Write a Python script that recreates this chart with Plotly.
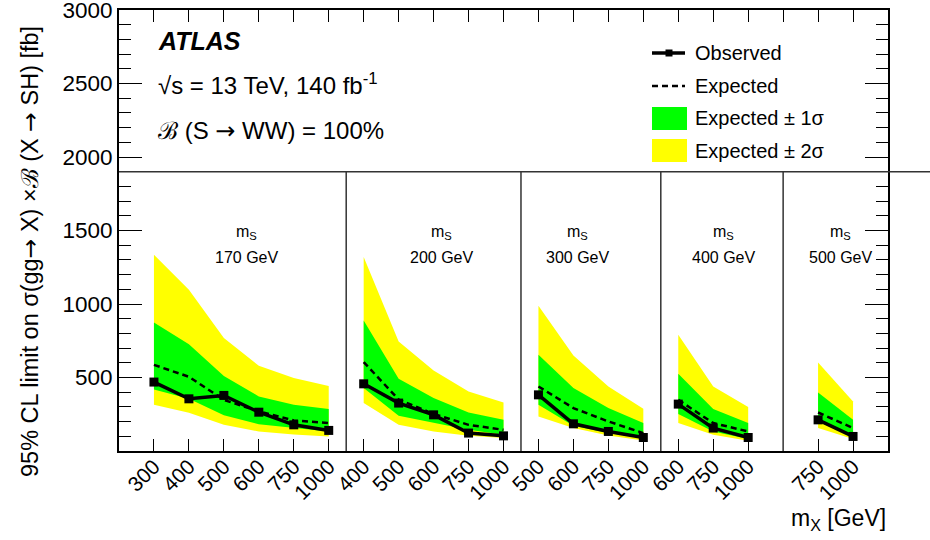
import plotly.graph_objects as go

# ---------------- data ----------------
ms_labels = ["170 GeV", "200 GeV", "300 GeV", "400 GeV", "500 GeV"]

mx_170 = ["300", "400", "500", "600", "750", "1000"]
mx_200 = ["400", "500", "600", "750", "1000"]
mx_300 = ["500", "600", "750", "1000"]
mx_400 = ["600", "750", "1000"]
mx_500 = ["750", "1000"]

obs_170 = [469, 355, 378, 264, 178, 140]
obs_200 = [457, 326, 246, 122, 103]
obs_300 = [382, 185, 133, 92]
obs_400 = [319, 156, 92]
obs_500 = [212, 99]

exp_170 = [586, 505, 348, 270, 208, 190]
exp_200 = [605, 350, 252, 178, 144]
exp_300 = [439, 292, 201, 122]
exp_400 = [348, 190, 133]
exp_500 = [262, 156]

p1s_170 = [874, 727, 511, 371, 314, 285]
p1s_200 = [888, 491, 360, 262, 212]
p1s_300 = [654, 428, 292, 190]
p1s_400 = [525, 285, 190]
p1s_500 = [398, 212]

m1s_170 = [418, 355, 244, 182, 158, 133]
m1s_200 = [428, 239, 190, 144, 110]
m1s_300 = [314, 171, 122, 88]
m1s_400 = [251, 133, 81]
m1s_500 = [201, 95]

p2s_170 = [1335, 1097, 768, 580, 496, 443]
p2s_200 = [1319, 745, 548, 405, 330]
p2s_300 = [988, 650, 439, 287]
p2s_400 = [790, 439, 299]
p2s_500 = [602, 337]

m2s_170 = [314, 261, 178, 133, 112, 99]
m2s_200 = [326, 178, 133, 103, 88]
m2s_300 = [235, 156, 105, 71]
m2s_400 = [190, 110, 69]
m2s_500 = [156, 81]

# ---------------- layout constants ----------------
slot_start = [0, 6, 11, 15, 19]        # first slot of each mS group
separators = [5.5, 10.5, 14.5, 18]
label_pos = [2.65, 8.23, 12.12, 16.29, 19.65]
XMIN, XMAX = -1, 21
YMIN, YMAX = 0, 3000
DIVIDER = 1900

W, H = 930, 540
# plot area in screen pixels: left 119, right 888, top 10, bottom 451
SL, SR, ST, SB = 119, 888, 10, 451
L, T, R, B = SL, ST, W - SR, H - SB
PW, PH = SR - SL, SB - ST
FONT = "Liberation Sans, Arial, Helvetica, sans-serif"
ARW = '<span style="font-family:DejaVu Sans">→</span>'
YEL = "#ffff00"
GRN = "#00ff00"


def px(x):
    return (x - SL) / PW


def py(y):
    return (SB - y) / PH


groups = [
    (mx_170, obs_170, exp_170, p1s_170, m1s_170, p2s_170, m2s_170),
    (mx_200, obs_200, exp_200, p1s_200, m1s_200, p2s_200, m2s_200),
    (mx_300, obs_300, exp_300, p1s_300, m1s_300, p2s_300, m2s_300),
    (mx_400, obs_400, exp_400, p1s_400, m1s_400, p2s_400, m2s_400),
    (mx_500, obs_500, exp_500, p1s_500, m1s_500, p2s_500, m2s_500),
]

fig = go.Figure()
tickvals, ticktext = [], []
for gi, (mx, obs, exp, p1, m1, p2, m2) in enumerate(groups):
    xs = [slot_start[gi] + i for i in range(len(mx))]
    tickvals += xs
    ticktext += mx
    fig.add_trace(go.Scatter(x=xs + xs[::-1], y=p2 + m2[::-1], fill="toself",
                             fillcolor=YEL, line=dict(width=0), mode="lines",
                             showlegend=False, hoverinfo="skip"))
    fig.add_trace(go.Scatter(x=xs + xs[::-1], y=p1 + m1[::-1], fill="toself",
                             fillcolor=GRN, line=dict(width=0), mode="lines",
                             showlegend=False, hoverinfo="skip"))
    fig.add_trace(go.Scatter(x=xs, y=exp, mode="lines",
                             line=dict(color="black", width=2.5, dash="6px,4px"),
                             showlegend=False))
    fig.add_trace(go.Scatter(x=xs, y=obs, mode="lines+markers",
                             line=dict(color="black", width=3.5),
                             marker=dict(symbol="square", size=9, color="black"),
                             showlegend=False))

# dummy trace to materialise the mirrored top/right axes
fig.add_trace(go.Scatter(x=[XMIN], y=[YMIN], xaxis="x2", yaxis="y2", mode="markers",
                         marker=dict(opacity=0), showlegend=False, hoverinfo="skip"))

major_y = list(range(500, 3001, 500))
minor_y = [v for v in range(100, 3000, 100) if v % 500 != 0]

yaxis_common = dict(range=[YMIN, YMAX], tickmode="array", tickvals=major_y,
                    ticks="inside", ticklen=23, tickwidth=1.3, tickcolor="black",
                    minor=dict(tickmode="array", tickvals=minor_y, ticks="inside",
                               ticklen=12, tickwidth=1.3, tickcolor="black"),
                    showgrid=False, zeroline=False, automargin=False)

fig.update_layout(
    width=W, height=H,
    margin=dict(l=L, r=R, t=T, b=B, autoexpand=False),
    paper_bgcolor="white", plot_bgcolor="white",
    font=dict(family=FONT, color="black"),
    showlegend=False,
    xaxis=dict(range=[XMIN, XMAX], tickmode="array", tickvals=tickvals,
               ticktext=ticktext, tickangle=-45, ticks="inside", ticklen=12,
               tickwidth=1.3, tickcolor="black", showgrid=False, zeroline=False,
               showline=True, mirror=True, linecolor="black", linewidth=2,
               automargin=False, ticklabeloverflow="allow", ticklabelstandoff=-7,
               tickfont=dict(size=21, family=FONT)),
    xaxis2=dict(range=[XMIN, XMAX], overlaying="x", side="top", tickmode="array",
                tickvals=list(range(0, 21)), ticks="inside", ticklen=12,
                tickwidth=1.3, tickcolor="black", showticklabels=False,
                showgrid=False, zeroline=False, showline=False, automargin=False),
    yaxis=dict(**yaxis_common, showline=True, mirror=True, linecolor="black",
               linewidth=2, ticklabeloverflow="allow",
               tickfont=dict(size=22.5, family=FONT)),
    yaxis2=dict(**yaxis_common, overlaying="y", side="right",
                showticklabels=False, showline=False),
)

shapes = []
for s in separators:
    shapes.append(dict(type="line", xref="x", yref="y", x0=s, x1=s, y0=YMIN, y1=DIVIDER,
                       line=dict(color="#333333", width=1.5)))
shapes.append(dict(type="line", xref="paper", yref="y", x0=0, x1=px(930), y0=DIVIDER,
                   y1=DIVIDER, line=dict(color="#333333", width=1.5)))

# legend symbols
shapes.append(dict(type="line", xref="paper", yref="paper", x0=px(652), x1=px(685),
                   y0=py(53), y1=py(53), line=dict(color="black", width=3.5)))
shapes.append(dict(type="rect", xref="paper", yref="paper", x0=px(665.5), x1=px(672.5),
                   y0=py(49.5), y1=py(56.5), fillcolor="black", line=dict(width=0)))
shapes.append(dict(type="line", xref="paper", yref="paper", x0=px(652), x1=px(685),
                   y0=py(86), y1=py(86), line=dict(color="black", width=2.5, dash="6px,4px")))
shapes.append(dict(type="rect", xref="paper", yref="paper", x0=px(652), x1=px(687),
                   y0=py(107), y1=py(130), fillcolor=GRN, line=dict(width=0)))
shapes.append(dict(type="rect", xref="paper", yref="paper", x0=px(652), x1=px(687),
                   y0=py(139), y1=py(162), fillcolor=YEL, line=dict(width=0)))
fig.update_layout(shapes=shapes)

ann = []


def text(x, y, s, size, xanchor="left", **kw):
    ann.append(dict(x=x, y=y, xref="paper", yref="paper", text=s, showarrow=False,
                    xanchor=xanchor, yanchor="middle",
                    font=dict(size=size, family=FONT, color="black"), **kw))


text(px(156), py(41), "<b><i>ATLAS</i></b>", 25)
text(px(156), py(84), "√s = 13 TeV, 140 fb<sup>-1</sup>", 24)
text(px(156), py(131), f"ℬ (S {ARW} WW) = 100%", 24)

text(px(693), py(53), "Observed", 20)
text(px(693), py(86), "Expected", 20)
text(px(693), py(118), "Expected ± 1σ", 20)
text(px(693), py(151), "Expected ± 2σ", 20)

for lab, xp in zip(ms_labels, label_pos):
    ann.append(dict(x=xp, y=py(232), xref="x", yref="paper", text="m<sub>S</sub>",
                    showarrow=False, xanchor="center", yanchor="middle",
                    font=dict(size=16, family=FONT, color="black")))
    ann.append(dict(x=xp, y=py(257), xref="x", yref="paper", text=lab,
                    showarrow=False, xanchor="center", yanchor="middle",
                    font=dict(size=16, family=FONT, color="black")))

text(1.0, py(519), "m<sub>X</sub> [GeV]", 23, xanchor="right")
ann.append(dict(x=px(30), y=py(252), xref="paper", yref="paper",
                text=f"95% CL limit on σ(gg{ARW} X) ×ℬ (X {ARW} SH) [fb]",
                textangle=-90, showarrow=False, xanchor="center", yanchor="middle",
                font=dict(size=23.5, family=FONT, color="black")))

fig.update_layout(annotations=ann)
fig.write_html("out.html",
               config={"displayModeBar": False},
               post_script="document.body.style.margin='0';"
                           "document.body.style.overflow='hidden';")
